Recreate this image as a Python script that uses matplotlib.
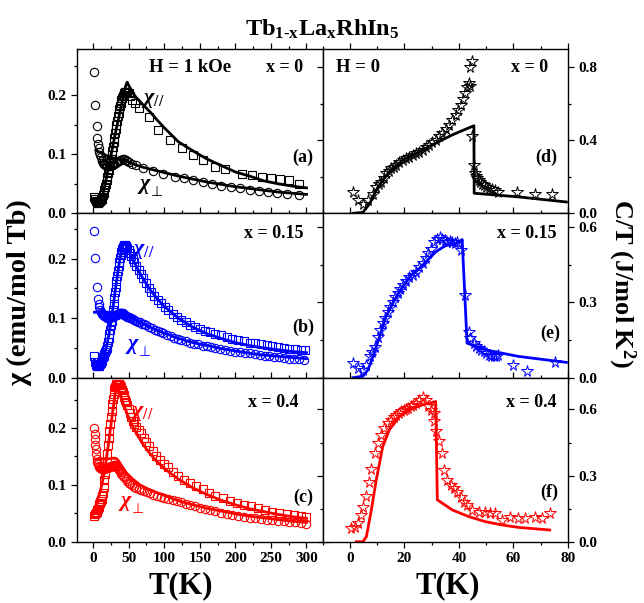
import numpy as np
import matplotlib
matplotlib.use("Agg")
import matplotlib.pyplot as plt
from matplotlib.ticker import MultipleLocator, FormatStrFormatter

plt.rcParams['font.family'] = ['Liberation Serif', 'DejaVu Serif']
plt.rcParams['font.weight'] = 'bold'
plt.rcParams['mathtext.fontset'] = 'custom'
plt.rcParams['mathtext.rm'] = 'Liberation Serif:bold'
plt.rcParams['mathtext.it'] = 'Liberation Serif:italic'
plt.rcParams['mathtext.bf'] = 'Liberation Serif:bold'

# ---- (a) x = 0, chi(T) ----
a_par_T = [2, 3, 4, 5, 6, 7, 8, 9, 10, 11, 12, 13, 14, 15, 16, 17, 18, 19, 20, 21, 22, 23, 24, 25, 26, 27, 28, 29, 30,
           31, 32, 33, 34, 35, 36, 37, 38, 39, 40, 41, 42, 43, 44, 45, 46, 47, 48, 50, 52, 55, 59, 65, 78, 92, 108,
           125, 141, 155, 172, 186, 209, 223, 237, 250, 263, 275, 289]
a_par = [0.028, 0.024, 0.021, 0.019, 0.018, 0.018, 0.019, 0.020, 0.021, 0.023, 0.025, 0.028, 0.031, 0.035, 0.039,
         0.044, 0.050, 0.056, 0.062, 0.068, 0.074, 0.080, 0.086, 0.092, 0.099, 0.106, 0.113, 0.120, 0.128, 0.136,
         0.143, 0.150, 0.157, 0.164, 0.170, 0.176, 0.182, 0.187, 0.191, 0.195, 0.198, 0.201, 0.203, 0.205, 0.206,
         0.206, 0.205, 0.203, 0.199, 0.192, 0.186, 0.178, 0.163, 0.141, 0.124, 0.110, 0.098, 0.090, 0.078, 0.075,
         0.067, 0.064, 0.062, 0.060, 0.058, 0.056, 0.050]
a_par_fit_T = [2, 4, 6, 8, 10, 12, 14, 16, 18, 20, 22, 24, 26, 28, 30, 32, 34, 36, 38, 40, 42, 44, 46, 48, 50, 55,
               60, 70, 80, 90, 100, 120, 140, 160, 180, 200, 220, 240, 260, 280, 300]
a_par_fit = [0.022, 0.018, 0.017, 0.018, 0.020, 0.025, 0.033, 0.043, 0.055, 0.067, 0.079, 0.091, 0.103, 0.115, 0.127,
             0.139, 0.150, 0.161, 0.172, 0.183, 0.194, 0.205, 0.216, 0.222, 0.217, 0.206, 0.197, 0.184, 0.172, 0.158,
             0.145, 0.121, 0.106, 0.092, 0.081, 0.070, 0.063, 0.055, 0.050, 0.046, 0.043]
a_perp_T = [2, 3, 5, 6, 7, 8, 9, 10, 11, 12, 13, 14, 15, 16, 17, 18, 19, 20, 22, 24, 26, 28, 30, 32, 34, 36, 38, 40,
            42, 44, 46, 48, 50, 55, 60, 70, 85, 99, 115, 128, 141, 154, 167, 180, 194, 207, 220, 233, 246, 259, 272, 289]
a_perp = [0.239, 0.183, 0.147, 0.128, 0.118, 0.110, 0.104, 0.099, 0.095, 0.091, 0.088, 0.086, 0.084, 0.083, 0.082,
          0.081, 0.080, 0.080, 0.080, 0.080, 0.081, 0.082, 0.083, 0.085, 0.087, 0.089, 0.090, 0.091, 0.092, 0.092,
          0.091, 0.089, 0.087, 0.084, 0.082, 0.077, 0.071, 0.067, 0.062, 0.059, 0.056, 0.053, 0.050, 0.047, 0.045,
          0.042, 0.040, 0.038, 0.036, 0.034, 0.033, 0.031]
a_perp_fit_T = [4, 10, 20, 30, 40, 46, 50, 60, 70, 80, 100, 120, 140, 160, 180, 200, 220, 240, 260, 280, 300]
a_perp_fit = [0.107, 0.103, 0.097, 0.093, 0.091, 0.090, 0.087, 0.082, 0.078, 0.075, 0.069, 0.063, 0.058, 0.053,
              0.049, 0.045, 0.042, 0.039, 0.036, 0.034, 0.032]

# ---- (b) x = 0.15 ----
b_par_T = [2, 3, 4, 5, 6, 7, 8, 9, 10, 11, 12, 13, 14, 15, 16, 17, 18, 19, 20, 21, 22, 23, 24, 25, 26, 27, 28, 29,
           30, 31, 32, 33, 34, 35, 36, 37, 38, 39, 40, 41, 42, 43, 44, 45, 46, 47, 48, 50, 52, 54, 56, 58, 61, 64,
           67, 70, 74, 78, 82, 86, 91, 96, 101, 106, 112, 118, 124, 130, 137, 144, 151, 158, 165, 172, 180, 188,
           196, 204, 212, 220, 228, 236, 244, 252, 260, 268, 276, 284, 292, 298]
b_par = [0.036, 0.027, 0.022, 0.020, 0.019, 0.019, 0.020, 0.021, 0.023, 0.025, 0.028, 0.031, 0.034, 0.037, 0.040,
         0.043, 0.046, 0.050, 0.054, 0.060, 0.067, 0.074, 0.081, 0.088, 0.096, 0.105, 0.114, 0.124, 0.134, 0.144,
         0.153, 0.162, 0.171, 0.179, 0.187, 0.194, 0.201, 0.207, 0.212, 0.217, 0.220, 0.222, 0.223, 0.223, 0.222,
         0.220, 0.218, 0.214, 0.210, 0.205, 0.200, 0.195, 0.188, 0.181, 0.174, 0.167, 0.159, 0.151, 0.144, 0.138,
         0.131, 0.125, 0.119, 0.113, 0.107, 0.102, 0.097, 0.093, 0.089, 0.085, 0.082, 0.079, 0.077, 0.074, 0.071,
         0.068, 0.065, 0.063, 0.061, 0.059, 0.058, 0.056, 0.055, 0.053, 0.051, 0.050, 0.049, 0.048, 0.047, 0.046]
b_par_fit_T = [2, 4, 6, 8, 10, 12, 14, 16, 18, 20, 22, 24, 26, 28, 30, 32, 34, 36, 38, 40, 42, 44, 46, 48, 50, 55,
               60, 70, 80, 90, 100, 120, 140, 160, 180, 200, 220, 240, 260, 280, 300]
b_par_fit = [0.030, 0.020, 0.018, 0.019, 0.022, 0.027, 0.033, 0.040, 0.048, 0.058, 0.070, 0.085, 0.100, 0.117, 0.135,
             0.153, 0.170, 0.186, 0.200, 0.213, 0.223, 0.227, 0.224, 0.219, 0.214, 0.201, 0.189, 0.167, 0.148, 0.133,
             0.120, 0.100, 0.085, 0.074, 0.066, 0.059, 0.054, 0.050, 0.047, 0.044, 0.042]
b_perp_T = [2, 3, 6, 7, 8, 9, 10, 11, 12, 13, 14, 15, 16, 17, 18, 19, 20, 21, 22, 23, 24, 25, 26, 27, 28, 29, 30, 31,
            32, 33, 34, 35, 36, 37, 38, 39, 40, 41, 42, 43, 44, 45, 46, 47, 48, 49, 50, 52, 54, 56, 58, 60, 63, 66,
            69, 72, 75, 79, 83, 87, 91, 95, 99, 104, 109, 114, 119, 124, 130, 136, 142, 148, 154, 160, 166, 172, 178,
            185, 192, 199, 206, 213, 220, 227, 234, 241, 248, 255, 262, 269, 276, 283, 290, 297]
b_perp = [0.247, 0.202, 0.152, 0.133, 0.124, 0.118, 0.114, 0.111, 0.109, 0.107, 0.106, 0.105, 0.104, 0.103, 0.102,
          0.102, 0.101, 0.101, 0.101, 0.101, 0.101, 0.102, 0.102, 0.103, 0.103, 0.104, 0.104, 0.105, 0.105, 0.106,
          0.106, 0.107, 0.107, 0.108, 0.108, 0.108, 0.108, 0.108, 0.108, 0.107, 0.106, 0.105, 0.104, 0.103, 0.102,
          0.102, 0.102, 0.101, 0.100, 0.099, 0.097, 0.096, 0.094, 0.093, 0.091, 0.090, 0.088, 0.086, 0.083, 0.081,
          0.079, 0.077, 0.075, 0.072, 0.070, 0.067, 0.065, 0.063, 0.061, 0.059, 0.057, 0.056, 0.054, 0.053, 0.052,
          0.050, 0.049, 0.047, 0.045, 0.044, 0.043, 0.042, 0.041, 0.039, 0.038, 0.037, 0.036, 0.035, 0.034, 0.033,
          0.032, 0.031, 0.031, 0.030]
b_perp_fit_T = [2, 10, 20, 30, 40, 44, 50, 60, 70, 80, 100, 120, 140, 160, 180, 200, 220, 240, 260, 280, 300]
b_perp_fit = [0.110, 0.110, 0.110, 0.110, 0.110, 0.109, 0.104, 0.097, 0.091, 0.085, 0.075, 0.066, 0.059, 0.054,
              0.049, 0.045, 0.041, 0.038, 0.036, 0.034, 0.032]

# ---- (c) x = 0.4 ----
c_par_T = [2, 3, 4, 5, 6, 7, 8, 9, 10, 11, 12, 13, 14, 15, 16, 17, 18, 19, 20, 21, 22, 23, 24, 25, 26, 27, 28, 29,
           30, 31, 32, 33, 34, 35, 36, 37, 38, 39, 40, 41, 42, 43, 44, 45, 46, 48, 50, 52, 54, 56, 58, 61, 64, 67,
           71, 75, 79, 84, 89, 94, 100, 106, 113, 120, 128, 136, 145, 154, 163, 172, 182, 192, 202, 212, 222, 232,
           242, 252, 262, 272, 282, 292, 300]
c_par = [0.046, 0.048, 0.050, 0.052, 0.055, 0.058, 0.061, 0.064, 0.068, 0.072, 0.076, 0.080, 0.086, 0.096, 0.108,
         0.120, 0.130, 0.140, 0.155, 0.170, 0.182, 0.195, 0.207, 0.219, 0.230, 0.242, 0.252, 0.260, 0.268, 0.272,
         0.275, 0.277, 0.277, 0.277, 0.277, 0.276, 0.275, 0.273, 0.271, 0.267, 0.263, 0.259, 0.255, 0.250, 0.246,
         0.240, 0.234, 0.227, 0.220, 0.213, 0.207, 0.201, 0.196, 0.191, 0.183, 0.175, 0.168, 0.159, 0.151, 0.144,
         0.137, 0.131, 0.123, 0.116, 0.109, 0.103, 0.098, 0.092, 0.086, 0.081, 0.077, 0.072, 0.068, 0.065, 0.062,
         0.059, 0.056, 0.053, 0.051, 0.049, 0.047, 0.045, 0.044]
c_par_fit_T = [5, 8, 10, 12, 14, 16, 18, 20, 22, 24, 26, 28, 30, 32, 33, 34, 36, 38, 40, 44, 48, 52, 56, 60, 70, 80,
               90, 100, 120, 140, 160, 180, 200, 220, 240, 260, 280, 300]
c_par_fit = [0.072, 0.080, 0.088, 0.098, 0.110, 0.124, 0.140, 0.157, 0.175, 0.194, 0.213, 0.232, 0.250, 0.268, 0.277,
             0.275, 0.268, 0.260, 0.252, 0.238, 0.225, 0.213, 0.202, 0.193, 0.172, 0.155, 0.141, 0.129, 0.110, 0.095,
             0.083, 0.073, 0.065, 0.058, 0.053, 0.048, 0.044, 0.041]
c_perp_T = [2, 2.3, 2.6, 3, 3.5, 4, 5, 6, 7, 8, 9, 10, 11, 12, 13, 14, 15, 16, 17, 18, 19, 20, 21, 22, 23, 24, 25,
            26, 27, 28, 29, 30, 31, 32, 33, 34, 35, 36, 37, 38, 39, 40, 42, 44, 46, 48, 50, 52, 55, 58, 61, 64, 68,
            72, 76, 80, 85, 90, 95, 100, 106, 112, 118, 124, 130, 137, 144, 151, 158, 165, 172, 180, 188, 196, 204,
            212, 220, 228, 236, 244, 252, 260, 268, 276, 284, 292, 299]
c_perp = [0.200, 0.189, 0.180, 0.171, 0.163, 0.154, 0.145, 0.140, 0.136, 0.133, 0.131, 0.130, 0.129, 0.128, 0.128,
          0.128, 0.128, 0.128, 0.129, 0.129, 0.130, 0.130, 0.131, 0.131, 0.132, 0.132, 0.133, 0.133, 0.134, 0.134,
          0.135, 0.135, 0.134, 0.133, 0.132, 0.131, 0.130, 0.128, 0.126, 0.124, 0.122, 0.120, 0.116, 0.113, 0.110,
          0.107, 0.104, 0.102, 0.099, 0.097, 0.095, 0.093, 0.091, 0.089, 0.087, 0.085, 0.083, 0.081, 0.079, 0.077,
          0.075, 0.073, 0.071, 0.069, 0.067, 0.065, 0.063, 0.060, 0.058, 0.056, 0.054, 0.051, 0.049, 0.047, 0.045,
          0.043, 0.042, 0.041, 0.040, 0.039, 0.038, 0.037, 0.036, 0.035, 0.034, 0.033, 0.032]
c_perp_fit_T = [4, 8, 12, 16, 20, 24, 28, 31, 33, 36, 40, 47, 55, 66, 80, 99, 120, 140, 160, 180, 200, 220, 240, 260,
                280, 300]
c_perp_fit = [0.145, 0.146, 0.146, 0.146, 0.146, 0.146, 0.147, 0.147, 0.146, 0.142, 0.134, 0.121, 0.111, 0.100,
              0.091, 0.082, 0.072, 0.065, 0.059, 0.054, 0.049, 0.045, 0.042, 0.039, 0.036, 0.034]

# ---- (d) x = 0, C/T ----
d_T = [1.2, 3.0, 4.8, 6.7, 8.5, 9.7, 10.6, 11.5, 12.4, 13.3, 14.2, 15.2, 16.1, 17.0, 18.2, 19.4, 20.6, 21.8, 23.0,
       24.2, 25.4, 26.7, 27.9, 29.1, 30.3, 31.5, 32.7, 33.9, 35.1, 36.4, 37.6, 38.8, 39.7, 40.6, 41.5, 42.4, 43.0,
       43.6, 44.0, 44.2, 44.8, 44.8, 45.5, 45.8, 46.2, 46.7, 47.3, 47.9, 48.5, 49.1, 50.0, 50.9, 52.1, 53.3, 54.5,
       61.2, 67.9, 74.0]
d_ct = [0.118, 0.072, 0.053, 0.072, 0.108, 0.145, 0.160, 0.173, 0.196, 0.219, 0.233, 0.246, 0.256, 0.265, 0.279,
        0.292, 0.302, 0.311, 0.320, 0.329, 0.338, 0.348, 0.361, 0.375, 0.389, 0.403, 0.421, 0.440, 0.462, 0.486,
        0.512, 0.541, 0.568, 0.596, 0.627, 0.660, 0.690, 0.716, 0.700, 0.800, 0.835, 0.421, 0.265, 0.219, 0.205,
        0.191, 0.182, 0.173, 0.163, 0.154, 0.145, 0.136, 0.132, 0.127, 0.118, 0.118, 0.108, 0.105]
d_fit_T = [1.2, 4.8, 7.3, 9.7, 12.1, 15.2, 19.4, 25.5, 31.5, 37.6, 45.5, 45.6, 49.7, 61.8, 79.4]
d_fit = [0.0, 0.005, 0.053, 0.127, 0.182, 0.237, 0.292, 0.338, 0.384, 0.430, 0.480, 0.110, 0.105, 0.090, 0.062]

# ---- (e) x = 0.15 ----
e_T = [1.2, 3.0, 4.8, 6.1, 7.3, 8.2, 9.1, 10.3, 11.2, 12.1, 13.0, 13.9, 14.8, 15.8, 16.7, 17.6, 18.5, 19.4, 20.6,
       21.8, 23.0, 24.2, 25.5, 26.7, 27.9, 28.8, 29.7, 30.9, 32.1, 33.0, 33.9, 34.8, 35.8, 36.7, 37.6, 38.5, 39.4,
       40.6, 42.4, 43.6, 44.2, 45.5, 46.4, 47.3, 48.2, 49.1, 50.0, 50.9, 51.8, 52.7, 53.6, 54.5, 60.0, 64.8, 75.2]
e_ct = [0.058, 0.038, 0.032, 0.052, 0.085, 0.104, 0.124, 0.164, 0.190, 0.217, 0.240, 0.263, 0.283, 0.303, 0.320,
        0.337, 0.353, 0.370, 0.385, 0.400, 0.411, 0.422, 0.440, 0.456, 0.476, 0.496, 0.515, 0.542, 0.555, 0.560,
        0.555, 0.548, 0.542, 0.545, 0.542, 0.538, 0.542, 0.509, 0.330, 0.184, 0.158, 0.138, 0.128, 0.118, 0.111,
        0.105, 0.098, 0.091, 0.088, 0.085, 0.088, 0.091, 0.052, 0.025, 0.061]
e_fit_T = [1.2, 4.8, 6.7, 8.5, 10.9, 13.3, 16.4, 19.4, 22.4, 25.5, 28.5, 31.5, 35.2, 38.8, 41.2, 43.0, 49.7, 61.8, 79.4]
e_fit = [0.0, 0.006, 0.032, 0.085, 0.164, 0.244, 0.310, 0.363, 0.409, 0.436, 0.469, 0.502, 0.528, 0.535, 0.551,
         0.138, 0.111, 0.085, 0.061]

# ---- (f) x = 0.4 ----
f_T = [0.6, 1.8, 3.0, 4.2, 4.8, 6.1, 7.0, 7.9, 9.1, 10.3, 11.5, 12.7, 13.9, 15.2, 16.1, 17.0, 17.9, 18.8, 19.7,
       20.6, 21.5, 22.4, 23.3, 24.2, 25.5, 26.7, 27.9, 28.5, 29.7, 30.9, 30.9, 31.5, 32.7, 33.9, 34.5, 35.8, 37.0,
       38.2, 39.4, 40.6, 41.8, 43.0, 44.8, 47.3, 49.7, 51.5, 53.3, 55.8, 58.8, 61.8, 64.2, 67.9, 70.3, 73.3]
f_ct = [0.061, 0.068, 0.083, 0.121, 0.159, 0.208, 0.273, 0.329, 0.402, 0.447, 0.485, 0.515, 0.538, 0.553, 0.565,
        0.576, 0.584, 0.591, 0.597, 0.602, 0.608, 0.614, 0.621, 0.629, 0.644, 0.656, 0.644, 0.614, 0.599, 0.584,
        0.546, 0.500, 0.455, 0.402, 0.326, 0.280, 0.258, 0.243, 0.227, 0.205, 0.182, 0.167, 0.144, 0.136, 0.136,
        0.132, 0.129, 0.099, 0.114, 0.106, 0.106, 0.114, 0.106, 0.132]
f_fit_T = [2.4, 4.8, 6.1, 7.9, 9.7, 12.1, 14.5, 18.2, 21.8, 26.7, 31.5, 32.1, 37.6, 43.6, 49.7, 55.8, 61.8, 73.3]
f_fit = [0.0, 0.0, 0.023, 0.144, 0.280, 0.432, 0.508, 0.568, 0.599, 0.621, 0.636, 0.190, 0.144, 0.114, 0.091, 0.076,
         0.065, 0.053]

K, B, RD = '#000000', '#0000ff', '#ff0000'

fig = plt.figure(figsize=(6.44, 6.03), dpi=100)
L, M, R = 77 / 644, 322.5 / 644, 568 / 644
H = 164.2 / 603
bots = [1 - 213.3 / 603, 1 - 377.7 / 603, 1 - 541.7 / 603]

def style(ax, side):
    for s in ax.spines.values():
        s.set_linewidth(1.0)
    ax.tick_params(which='both', labelsize=11, width=0.9)
    ax.tick_params(which='major', length=4)
    ax.tick_params(which='minor', length=2)
    if side == 'left':
        ax.tick_params(axis='y', which='both', direction='out', left=True, right=True)
    else:
        ax.yaxis.tick_right()
        ax.tick_params(axis='y', which='both', direction='out', left=True, right=True, labelleft=False, labelright=True)
    ax.tick_params(axis='x', which='both', direction='out', top=True, bottom=True)
    for lab in ax.get_xticklabels() + ax.get_yticklabels():
        lab.set_fontweight('bold')

def chi_label(ax, x, y, sub, col):
    if sub == '//':
        ax.text(x, y, r'$\chi_{//}$', color=col, fontsize=16, ha='center', va='center')
    else:
        ax.text(x, y, r'$\chi$', color=col, fontsize=16, ha='center', va='center')
        ax.annotate('⊥', (x, y), xytext=(4.5, -4.5), textcoords='offset points', color=col, fontsize=10,
                    fontweight='normal', family=['DejaVu Sans'], ha='left', va='center')

mk = dict(linestyle='none', mfc='none', mew=0.8, ms=6)
chi_rows = [
    (a_par_T, a_par, a_par_fit_T, a_par_fit, a_perp_T, a_perp, a_perp_fit_T, a_perp_fit, K, 0.278),
    (b_par_T, b_par, b_par_fit_T, b_par_fit, b_perp_T, b_perp, b_perp_fit_T, b_perp_fit, B, 0.276),
    (c_par_T, c_par, c_par_fit_T, c_par_fit, c_perp_T, c_perp, c_perp_fit_T, c_perp_fit, RD, 0.289),
]
ct_rows = [(d_T, d_ct, d_fit_T, d_fit, K, 0.9, 0.4, 0.2),
           (e_T, e_ct, e_fit_T, e_fit, B, 0.655, 0.3, 0.15),
           (f_T, f_ct, f_fit_T, f_fit, RD, 0.745, 0.3, 0.15)]

chi_lab = [((84, 0.192), (72, 0.047)), ((70, 0.213), (55, 0.053)), ((68, 0.227), (46, 0.068))]
xtxt = ['x = 0', 'x = 0.15', 'x = 0.4']
ltr = [('(a)', '(d)'), ('(b)', '(e)'), ('(c)', '(f)')]
xpos_l = [(0.847, 0.885), (0.80, 0.88), (0.80, 0.845)]
xpos_r = [(0.845, 0.89), (0.833, 0.88), (0.85, 0.85)]
lpos_l = [(0.92, 0.343), (0.92, 0.309), (0.92, 0.272)]
lpos_r = [(0.91, 0.343), (0.927, 0.272), (0.923, 0.303)]

for i in range(3):
    pT, p, pfT, pf, qT, q, qfT, qf, col, ytop = chi_rows[i]
    ax = fig.add_axes([L, bots[i], M - L, H])
    ax.plot(pT, p, marker='s', mec=col, **mk)
    ax.plot(qT, q, marker='o', mec=col, **mk)
    ax.plot(pfT, pf, color=col, lw=2)
    ax.plot(qfT, qf, color=col, lw=2)
    ax.set_xlim(-22.5, 322.5)
    ax.set_ylim(0, ytop)
    ax.xaxis.set_major_locator(MultipleLocator(50))
    ax.xaxis.set_minor_locator(MultipleLocator(25))
    ax.yaxis.set_major_locator(MultipleLocator(0.1))
    ax.yaxis.set_minor_locator(MultipleLocator(0.05))
    ax.yaxis.set_major_formatter(FormatStrFormatter('%.1f'))
    if i < 2:
        ax.tick_params(labelbottom=False)
    style(ax, 'left')
    (px_, py_), (qx_, qy_) = chi_lab[i]
    chi_label(ax, px_, py_, '//', col)
    chi_label(ax, qx_, qy_, '⊥', col)
    ax.text(*xpos_l[i], xtxt[i], transform=ax.transAxes, fontsize=13, ha='center', va='center')
    ax.text(*lpos_l[i], ltr[i][0], transform=ax.transAxes, fontsize=13, ha='center', va='center')
    if i == 0:
        ax.text(0.46, 0.89, 'H = 1 kOe', transform=ax.transAxes, fontsize=13.5, ha='center', va='center')

    T, ct, fT, f, col, ytop, maj, mnr = ct_rows[i]
    ax2 = fig.add_axes([M, bots[i], R - M, H])
    ax2.plot(T, ct, marker='*', mec=col, **dict(mk, ms=8.5, mew=0.7))
    ax2.plot(fT, f, color=col, lw=2)
    ax2.set_xlim(-10, 80)
    ax2.set_ylim(0, ytop)
    ax2.xaxis.set_major_locator(MultipleLocator(20))
    ax2.xaxis.set_minor_locator(MultipleLocator(10))
    ax2.yaxis.set_major_locator(MultipleLocator(maj))
    ax2.yaxis.set_minor_locator(MultipleLocator(mnr))
    ax2.yaxis.set_major_formatter(FormatStrFormatter('%.1f'))
    if i < 2:
        ax2.tick_params(labelbottom=False)
    style(ax2, 'right')
    ax2.text(*xpos_r[i], xtxt[i], transform=ax2.transAxes, fontsize=13, ha='center', va='center')
    ax2.text(*lpos_r[i], ltr[i][1], transform=ax2.transAxes, fontsize=13, ha='center', va='center')
    if i == 0:
        ax2.text(0.145, 0.89, 'H = 0', transform=ax2.transAxes, fontsize=13.5, ha='center', va='center')

fig.text(0.5, 0.952, 'Tb$_{\\mathrm{1\u2010x}}$La$_{\\mathrm{x}}$RhIn$_{\\mathrm{5}}$', fontsize=17.5,
         ha='center', va='center')
fig.text(0.03, 0.514, 'χ (emu/mol Tb)', fontsize=20.5, rotation=90, ha='center', va='center')
fig.text(0.966, 0.53, r'C/T (J/mol K$^{2}$)', fontsize=19, rotation=270, ha='center', va='center')
fig.text(181 / 644, 0.028, 'T(K)', fontsize=22, ha='center', va='center')
fig.text(448 / 644, 0.028, 'T(K)', fontsize=22, ha='center', va='center')

fig.savefig('out.png', dpi=100)
